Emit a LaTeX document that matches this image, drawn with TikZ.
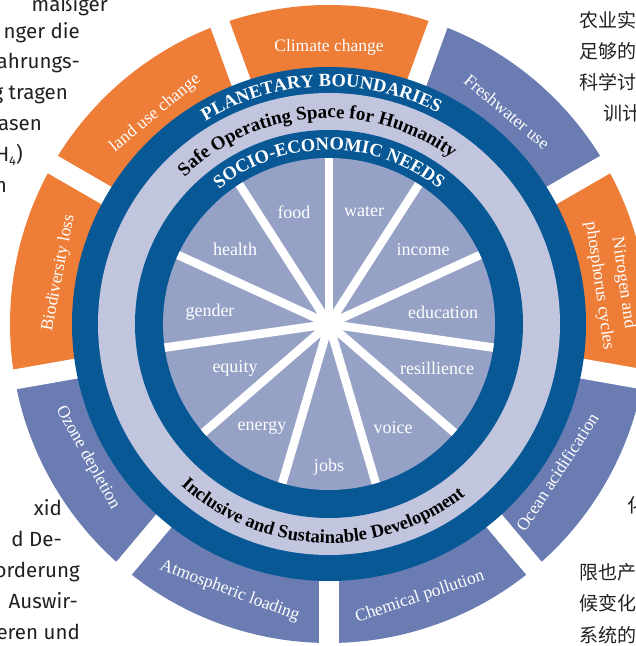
\documentclass[tikz,border=0pt]{standalone}
\usepackage{fontspec}
\setmainfont{Liberation Serif}
\newfontfamily\bodysans{Fira Sans}
\newfontfamily\cjk{Noto Sans CJK SC}
\usetikzlibrary{decorations.text}

\definecolor{pborange}{HTML}{ED7D37}
\definecolor{pbslate}{HTML}{6A7CB2}
\definecolor{ringdark}{HTML}{085896}
\definecolor{ringlight}{HTML}{C1C5DE}
\definecolor{wedgefill}{HTML}{96A1C6}
\definecolor{pagetext}{HTML}{231F20}

% annular sector of the outer boundary ring: colour, start angle, end angle
\newcommand{\pbsector}[3]{%
  \fill[#1] (#2:250pt) arc[start angle=#2, end angle=#3, radius=250pt]
    -- (#3:319pt) arc[start angle=#3, end angle=#2, radius=319pt] -- cycle;}

\begin{document}
\begin{tikzpicture}[x=1pt,y=1pt,
  seglabel/.style={text=white, inner sep=0pt, align=center,
    font=\fontsize{17.5}{24}\selectfont},
  needlabel/.style={text=white, inner sep=0pt, font=\fontsize{18}{20}\selectfont},
  germantext/.style={anchor=base east, inner sep=0pt, text=pagetext,
    font=\bodysans\fontsize{20.5}{24}\selectfont},
  cjktext/.style={anchor=base west, inner sep=0pt, text=pagetext,
    font=\cjk\fontsize{19}{22}\selectfont},
  gapbar/.style={white, line width=20pt},
  spoke/.style={white, line width=8.5pt},
]
\useasboundingbox (0,0) rectangle (636,646);
\clip (0,0) rectangle (636,646);

% ---- running text of the page around the figure ----
\node[germantext] (de1) at (108,634) {mäßiger};
\node[germantext] (de2) at (80,607) {nger die};
\node[germantext] (de3) at (80,577) {ahrungs-};
\node[germantext] (de4) at (68,546) {g tragen};
\node[germantext] (de5) at (42,515) {asen};
\node[germantext] (de6) at (23,484) {H\raisebox{-0.3ex}{\fontsize{13}{13}\selectfont 4})};
\node[germantext] (de7) at (7,453) {n};
\node[germantext] (de8) at (62,130) {xid};
\node[germantext] (de9) at (62,99) {d De-};
\node[germantext] (de10) at (80,68) {orderung};
\node[germantext] (de11) at (78,37) {Auswir-};
\node[germantext] (de12) at (80,6) {eren und};

\node[cjktext] (zh1) at (579,618) {农业实};
\node[cjktext] (zh2) at (579,587) {足够的};
\node[cjktext] (zh3) at (579,556) {科学讨};
\node[cjktext] (zh4) at (603,525) {训计};
\node[cjktext] (zh5) at (627,133) {化};
\node[cjktext] (zh6) at (579,66) {限也产};
\node[cjktext] (zh7) at (579,35) {候变化};
\node[cjktext] (zh8) at (579,4) {系统的};

\begin{scope}[shift={(329,322)}]
  % ---- outer ring: the nine planetary boundaries ----
  \pbsector{pborange}{70}{110}
  \pbsector{pborange}{110}{150}
  \pbsector{pborange}{150}{190}
  \pbsector{pbslate}{190}{230}
  \pbsector{pbslate}{230}{270}
  \pbsector{pbslate}{270}{310}
  \pbsector{pbslate}{310}{350}
  \pbsector{pborange}{-10}{30}
  \pbsector{pbslate}{30}{70}
  \foreach \a in {30,70,...,350} \draw[gapbar] (0,0) -- (\a:340pt);

  % ---- concentric bands ----
  \fill[ringdark]  (0,0) circle[radius=257pt];
  \fill[ringlight] (0,0) circle[radius=231pt];
  \fill[ringdark]  (0,0) circle[radius=194pt];
  \fill[wedgefill] (0,0) circle[radius=166pt];

  % ---- eleven social wedges ----
  \foreach \k in {0,...,10} \draw[spoke] (0,0) -- ({90+\k*360/11}:166pt);
  \fill[white] (0,0) circle[radius=9pt];

  % ---- curved band titles ----
  \path[decorate, decoration={text along path, text align=center, text color=white,
      text={|\bfseries\fontsize{18.5}{18.5}\selectfont|PLANETARY BOUNDARIES}}]
    (150:237.5pt) arc[start angle=150, end angle=34, radius=237.5pt];
  \path[decorate, decoration={text along path, text align=center, text color=black,
      text={|\bfseries\fontsize{19}{19}\selectfont|Safe Operating Space for Humanity}}]
    (160:206pt) arc[start angle=160, end angle=28, radius=206pt];
  \path[decorate, decoration={text along path, text align=center, text color=white,
      text={|\bfseries\fontsize{18.5}{18.5}\selectfont|SOCIO-ECONOMIC NEEDS}}]
    (150:174pt) arc[start angle=150, end angle=30, radius=174pt];
  \path[decorate, decoration={text along path, text align=center, text color=black,
      text={|\bfseries\fontsize{18.5}{18.5}\selectfont|Inclusive and Sustainable Development}}]
    (200:219pt) arc[start angle=200, end angle=336, radius=219pt];

  % ---- boundary labels ----
  \node[seglabel, rotate=0]     (climate) at (90:277pt)    {Climate change};
  \node[seglabel, rotate=39.5]  (landuse) at (129.5:273pt) {land use change};
  \node[seglabel, rotate=79.3]  (biodiv)  at (169.3:275pt) {Biodiversity loss};
  \node[seglabel, rotate=-61]   (ozone)   at (209:276pt)   {Ozone depletion};
  \node[seglabel, rotate=-20.4] (atmos)   at (249.6:285pt) {Atmospheric loading};
  \node[seglabel, rotate=18.4]  (chem)    at (288.4:288pt) {Chemical pollution};
  \node[seglabel, rotate=57]    (ocean)   at (327:272pt)   {Ocean acidification};
  \node[seglabel, rotate=-82]   (nitro)   at (8:285pt)     {Nitrogen and\\phosphorus cycles};
  \node[seglabel, rotate=-40]   (fresh)   at (50:277pt)    {Freshwater use};

  % ---- social foundation labels ----
  \node[needlabel] (food)   at (-35,112)  {food};
  \node[needlabel] (water)  at (35,112)   {water};
  \node[needlabel] (income) at (94,74)    {income};
  \node[needlabel] (educ)   at (114,12)   {education};
  \node[needlabel] (resil)  at (108,-44)  {resillience};
  \node[needlabel] (voice)  at (64,-104)  {voice};
  \node[needlabel] (jobs)   at (0,-143)   {jobs};
  \node[needlabel] (energy) at (-67,-104) {energy};
  \node[needlabel] (equity) at (-94,-44)  {equity};
  \node[needlabel] (gender) at (-119,12)  {gender};
  \node[needlabel] (health) at (-94,75)   {health};
\end{scope}
\end{tikzpicture}
\end{document}
